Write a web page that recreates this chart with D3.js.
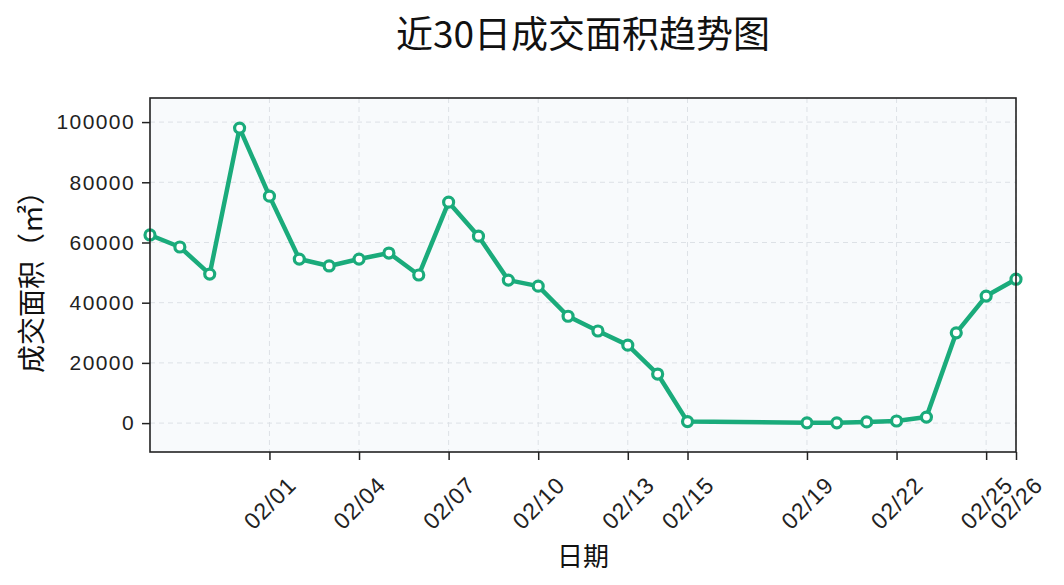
<!DOCTYPE html>
<html><head><meta charset="utf-8">
<script src="https://cdn.jsdelivr.net/npm/d3@7"></script>
<style>
html,body{margin:0;padding:0;background:#fff;}
svg{display:block;}
</style></head>
<body>
<svg id="chart" width="1064" height="585"></svg>
<script>
const dates = ["2025-01-28","2025-01-29","2025-01-30","2025-01-31","2025-02-01","2025-02-02","2025-02-03","2025-02-04","2025-02-05","2025-02-06","2025-02-07","2025-02-08","2025-02-09","2025-02-10","2025-02-11","2025-02-12","2025-02-13","2025-02-14","2025-02-15","2025-02-19","2025-02-20","2025-02-21","2025-02-22","2025-02-23","2025-02-24","2025-02-25","2025-02-26"];
const areas = [62500,58500,49500,98000,75400,54500,52200,54500,56500,49200,73400,62100,47500,45500,35500,30600,25900,16300,500,100,100,400,700,2000,30000,42200,47800];
const xTickDates = ["2025-02-01","2025-02-04","2025-02-07","2025-02-10","2025-02-13","2025-02-15","2025-02-19","2025-02-22","2025-02-25","2025-02-26"];
const yTicks = [0,20000,40000,60000,80000,100000];
const titleText = "近30日成交面积趋势图";
const xLabel = "日期";
const yLabel = "成交面积（㎡）";

const parse = d3.timeParse("%Y-%m-%d");
const fmt = d3.timeFormat("%m/%d");
const data = dates.map((d,i)=>({date:parse(d), v:areas[i]}));

const svg = d3.select("#chart");
const m = {left:150, right:1016, top:98, bottom:452};
const x = d3.scaleTime().domain(d3.extent(data, d=>d.date)).range([m.left, m.right]);
const y = d3.scaleLinear().domain([-9600, 108000]).range([m.bottom, m.top]);

const tickFont = "'Liberation Sans', Arial, sans-serif";
const cjkFont = "'Noto Sans CJK SC', sans-serif";

// background
svg.append("rect").attr("x",m.left).attr("y",m.top).attr("width",m.right-m.left).attr("height",m.bottom-m.top).attr("fill","#f8fafc");

// grid
const g = svg.append("g");
g.selectAll("line.h").data(yTicks).join("line")
  .attr("x1",m.left).attr("x2",m.right).attr("y1",d=>y(d)).attr("y2",d=>y(d))
  .attr("stroke","#dde1e6").attr("stroke-width",1).attr("stroke-dasharray","5,4");
g.selectAll("line.v").data(xTickDates.map(parse)).join("line")
  .attr("x1",d=>x(d)).attr("x2",d=>x(d)).attr("y1",m.top).attr("y2",m.bottom)
  .attr("stroke","#dde1e6").attr("stroke-width",1).attr("stroke-dasharray","5,4");

// line
const green = "#1aab7b";
svg.append("path").datum(data)
  .attr("d", d3.line().x(d=>x(d.date)).y(d=>y(d.v)))
  .attr("fill","none").attr("stroke",green).attr("stroke-width",4.5).attr("stroke-linejoin","round");
svg.selectAll("circle.pt").data(data).join("circle")
  .attr("cx",d=>x(d.date)).attr("cy",d=>y(d.v)).attr("r",5)
  .attr("fill","#fff").attr("stroke",green).attr("stroke-width",3.2);

// frame
svg.append("rect").attr("x",m.left).attr("y",m.top).attr("width",m.right-m.left).attr("height",m.bottom-m.top)
  .attr("fill","none").attr("stroke","#222").attr("stroke-width",1.6);

// y axis
const ya = svg.append("g").attr("transform",`translate(${m.left},0)`)
  .call(d3.axisLeft(y).tickValues(yTicks).tickFormat(d3.format("d")).tickSize(8).tickPadding(7));
ya.select(".domain").remove();
ya.selectAll(".tick line").attr("stroke","#222").attr("stroke-width",1.5);
ya.selectAll(".tick text").attr("font-family",tickFont).attr("font-size",21).attr("letter-spacing","1.4px").attr("fill","#222");

// x axis
const xa = svg.append("g").attr("transform",`translate(0,${m.bottom})`)
  .call(d3.axisBottom(x).tickValues(xTickDates.map(parse)).tickFormat(fmt).tickSize(8));
xa.select(".domain").remove();
xa.selectAll(".tick line").attr("stroke","#222").attr("stroke-width",1.5);
xa.selectAll(".tick text")
  .attr("font-family",tickFont).attr("font-size",23).attr("letter-spacing","1px").attr("fill","#222")
  .attr("text-anchor","middle").attr("dy",null).attr("y",null)
  .attr("dominant-baseline","central")
  .attr("transform","translate(0,51) rotate(-45)");

// title
svg.append("text").attr("x",583).attr("y",48).attr("text-anchor","middle")
  .attr("font-family",cjkFont).attr("font-size",37).attr("fill","#111").text(titleText);
// x label
svg.append("text").attr("x",583).attr("y",566).attr("text-anchor","middle")
  .attr("font-family",cjkFont).attr("font-size",26).attr("fill","#111").text(xLabel);
// y label
svg.append("text").attr("transform","translate(42,275) rotate(-90)").attr("text-anchor","middle")
  .attr("font-family",cjkFont).attr("font-size",28).attr("fill","#111").text(yLabel);
</script>
</body></html>
